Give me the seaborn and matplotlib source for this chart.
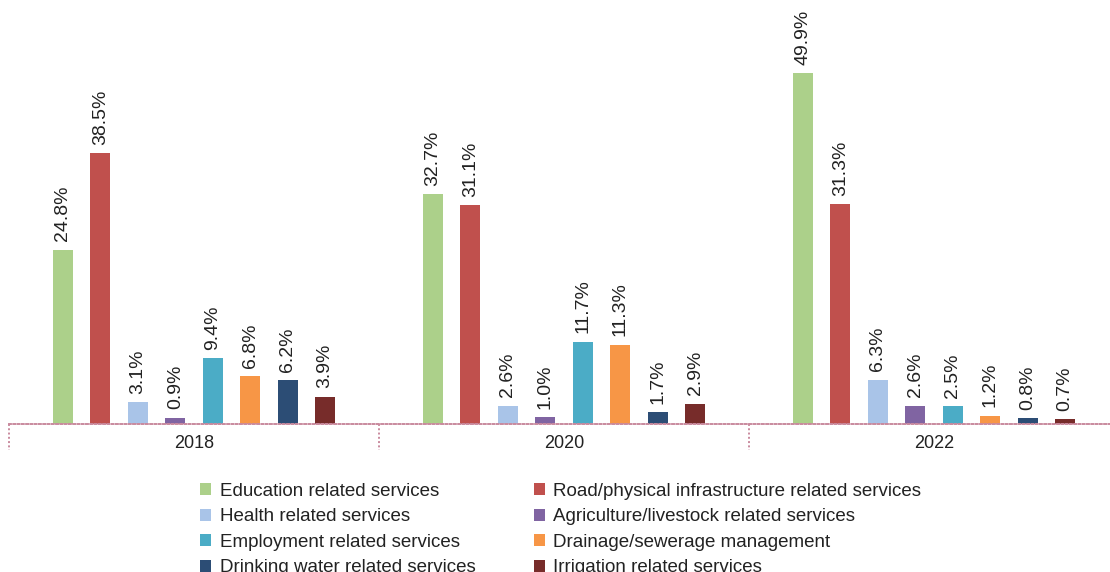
import matplotlib
matplotlib.use("Agg")
import matplotlib.pyplot as plt
import matplotlib.transforms as mtransforms
import seaborn as sns
import pandas as pd

years = ["2018", "2020", "2022"]
services = [
    "Education related services",
    "Road/physical infrastructure related services",
    "Health related services",
    "Agriculture/livestock related services",
    "Employment related services",
    "Drainage/sewerage management",
    "Drinking water related services",
    "Irrigation related services",
]
share_2018 = [24.8, 38.5, 3.1, 0.9, 9.4, 6.8, 6.2, 3.9]
share_2020 = [32.7, 31.1, 2.6, 1.0, 11.7, 11.3, 1.7, 2.9]
share_2022 = [49.9, 31.3, 6.3, 2.6, 2.5, 1.2, 0.8, 0.7]
colors = ["#acd08a", "#c0504d", "#a9c4e8", "#8064a2",
          "#4bacc6", "#f79646", "#2c4d75", "#772c2a"]

rows = []
for yr, vals in zip(years, [share_2018, share_2020, share_2022]):
    for svc, v in zip(services, vals):
        rows.append({"year": yr, "service": svc, "share": v})
df = pd.DataFrame(rows)

sns.set_style("white")
plt.rcParams["font.family"] = ["Liberation Sans", "DejaVu Sans"]

W, H = 1110, 572
fig = plt.figure(figsize=(W / 100, H / 100), dpi=100)
base_y = 424
left_px = 9
ax = fig.add_axes([left_px / W, (H - base_y) / H, (W - left_px) / W, base_y / H])

sns.barplot(data=df, x="year", y="share", hue="service", hue_order=services,
            order=years, palette=colors, saturation=1, width=0.81, gap=0.47,
            linewidth=0, ax=ax, legend=True)

px_per_group = 370
ax.set_xlim(-0.5, -0.5 + (W - left_px) / px_per_group)
ax.set_ylim(0, base_y / 7.03)

for container in ax.containers:
    for bar in container:
        h = bar.get_height()
        ax.annotate(f"{h:.1f}%", (bar.get_x() + bar.get_width() / 2, h),
                    xytext=(0, 6), textcoords="offset points",
                    ha="center", va="bottom", rotation=90,
                    fontsize=14, color="#222222")

for s in ["top", "right", "left"]:
    ax.spines[s].set_visible(False)
dot_color = "#c98a9e"
ax.spines["bottom"].set_color(dot_color)
ax.spines["bottom"].set_linestyle((0, (1, 1.2)))
ax.spines["bottom"].set_linewidth(1.4)

trans = mtransforms.blended_transform_factory(ax.transData, ax.transAxes)
for xb in [-0.5, 0.5, 1.5, 2.5]:
    ax.plot([xb, xb], [0, -26 / base_y], transform=trans, clip_on=False,
            color=dot_color, linestyle=(0, (1, 1.2)), linewidth=1.4)

ax.set_yticks([])
ax.set_xlabel("")
ax.set_ylabel("")
ax.tick_params(axis="x", length=0, labelsize=13, pad=8, colors="#222222")

handles, labels = ax.get_legend_handles_labels()
ax.get_legend().remove()
# two columns filled row by row
order = [0, 2, 4, 6, 1, 3, 5, 7]
fig.legend([handles[i] for i in order], [labels[i] for i in order],
           loc="upper left", ncol=2,
           bbox_to_anchor=(200 / W, (H - 483) / H), frameon=False,
           fontsize=13.5, handlelength=0.6, handleheight=0.6,
           handletextpad=0.45, columnspacing=3.1, labelspacing=0.45,
           borderaxespad=0, borderpad=0, labelcolor="#222222")

fig.savefig("out.png", dpi=100)
